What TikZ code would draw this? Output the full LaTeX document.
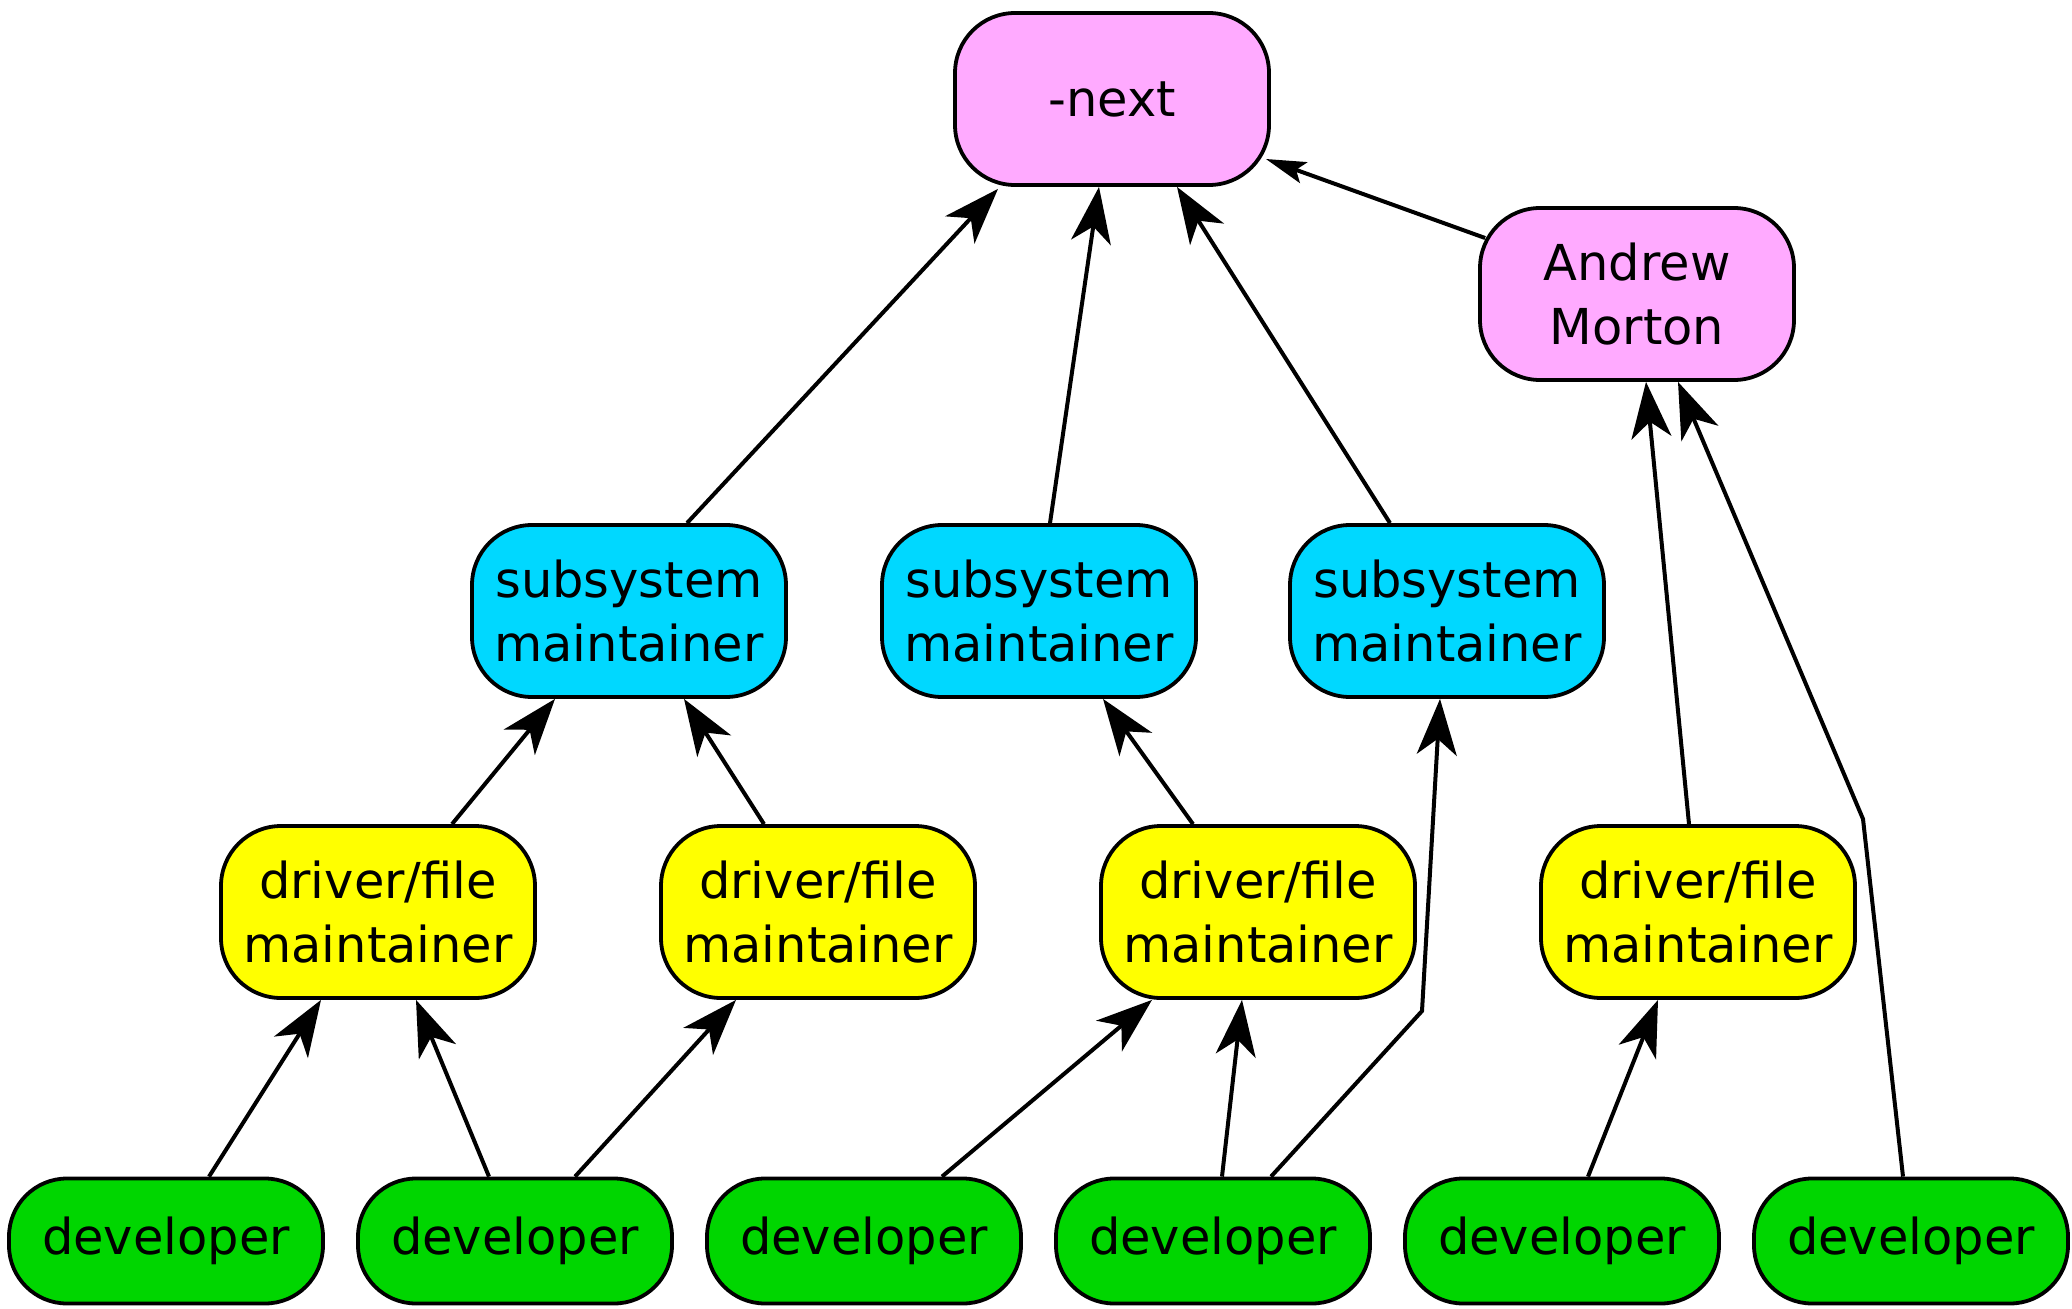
\documentclass[tikz,border=0pt]{standalone}
\usepackage{fontspec}
\setmainfont{DejaVu Sans}
\usetikzlibrary{arrows.meta}
\definecolor{pinkc}{RGB}{255,170,255}
\definecolor{cyanc}{RGB}{0,216,255}
\definecolor{yellowc}{RGB}{255,255,0}
\definecolor{greenc}{RGB}{0,214,0}
\tikzset{
  box/.style={draw=black, line width=3.8pt, rounded corners=60pt, minimum width=314pt, align=center, inner sep=0pt, font=\fontsize{49.5}{64}\selectfont},
  tall/.style={box, minimum height=172pt},
  short/.style={box, minimum height=125pt, rounded corners=58pt},
  topn/.style={tall, fill=pinkc},
  subn/.style={tall, fill=cyanc},
  drvn/.style={tall, fill=yellowc},
  devn/.style={short, fill=greenc},
  conn/.style={line width=4pt, -{Stealth[length=56pt,width=40pt,inset=16pt]}},
  connsmall/.style={line width=4pt, -{Stealth[length=40pt,width=22pt,inset=8pt]}}
}
\begin{document}
\begin{tikzpicture}[x=1pt,y=-1pt]
\useasboundingbox (0,0) rectangle (2072,1309);
\node[topn] (next) at (1112,99) {-next};
\node[topn] (andrew) at (1637,294) {Andrew\\Morton};
\node[subn] (s1) at (629,611) {subsystem\\maintainer};
\node[subn] (s2) at (1039,611) {subsystem\\maintainer};
\node[subn] (s3) at (1447,611) {subsystem\\maintainer};
\node[drvn] (d1) at (378,912) {driver/file\\maintainer};
\node[drvn] (d2) at (818,912) {driver/file\\maintainer};
\node[drvn] (d3) at (1258,912) {driver/file\\maintainer};
\node[drvn] (d4) at (1698,912) {driver/file\\maintainer};
\node[devn] (v1) at (166,1241) {developer};
\node[devn] (v2) at (515,1241) {developer};
\node[devn] (v3) at (864,1241) {developer};
\node[devn] (v4) at (1213,1241) {developer};
\node[devn] (v5) at (1562,1241) {developer};
\node[devn] (v6) at (1911,1241) {developer};
\coordinate (k1) at (1422,1011);
\coordinate (k2) at (1863,819);
% to -next
\draw[conn] ([xshift=58pt]s1.north) -- ([xshift=-114pt,yshift=-2pt]next.south);
\draw[conn] ([xshift=11pt]s2.north) -- ([xshift=-13pt]next.south);
\draw[conn] ([xshift=-57pt]s3.north) -- ([xshift=65pt]next.south);
\draw[connsmall] ([xshift=7pt,yshift=56pt]andrew.west) -- ([xshift=-5pt,yshift=-60pt]next.east);
% to subsystems
\draw[conn] ([xshift=74pt]d1.north) -- ([xshift=-74pt]s1.south);
\draw[conn] ([xshift=-54pt]d2.north) -- ([xshift=55pt]s1.south);
\draw[conn] ([xshift=-65pt]d3.north) -- ([xshift=64pt]s2.south);
\draw[conn] ([xshift=58pt]v4.north) -- (k1) -- ([xshift=-7pt]s3.south);
% to Andrew
\draw[conn] ([xshift=-9pt]d4.north) -- ([xshift=9pt]andrew.south);
\draw[conn] ([xshift=-8pt]v6.north) -- (k2) -- ([xshift=41pt]andrew.south);
% to drivers
\draw[conn] ([xshift=43pt]v1.north) -- ([xshift=-57pt]d1.south);
\draw[conn] ([xshift=-26pt]v2.north) -- ([xshift=38pt]d1.south);
\draw[conn] ([xshift=60pt]v2.north) -- ([xshift=-82pt]d2.south);
\draw[conn] ([xshift=78pt]v3.north) -- ([xshift=-106pt]d3.south);
\draw[conn] ([xshift=9pt]v4.north) -- ([xshift=-16pt]d3.south);
\draw[conn] ([xshift=26pt]v5.north) -- ([xshift=-40pt]d4.south);
\end{tikzpicture}
\end{document}
